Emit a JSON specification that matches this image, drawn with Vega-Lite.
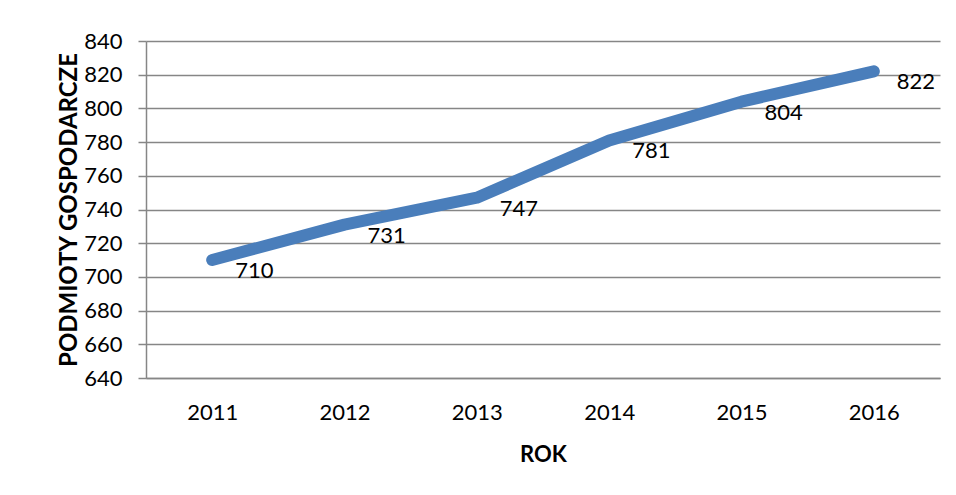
{
  "$schema": "https://vega.github.io/schema/vega-lite/v6.json",
  "width": 794,
  "height": 337,
  "autosize": {"type": "none"},
  "padding": {"left": 146, "top": 41, "right": 16, "bottom": 117},
  "background": "white",
  "config": {
    "view": {"stroke": null},
    "font": "Lato",
    "axis": {
      "labelFont": "Lato",
      "titleFont": "Lato",
      "labelColor": "#000000",
      "titleColor": "#000000",
      "domainColor": "#868686",
      "gridColor": "#868686",
      "tickColor": "#868686",
      "domainWidth": 1.5,
      "gridWidth": 1.5,
      "tickWidth": 1.5
    }
  },
  "data": {
    "values": [
      {"rok": "2011", "podmioty": 710},
      {"rok": "2012", "podmioty": 731},
      {"rok": "2013", "podmioty": 747},
      {"rok": "2014", "podmioty": 781},
      {"rok": "2015", "podmioty": 804},
      {"rok": "2016", "podmioty": 822}
    ]
  },
  "encoding": {
    "x": {
      "field": "rok",
      "type": "ordinal",
      "scale": {"type": "point", "padding": 0.5},
      "axis": {
        "title": "ROK",
        "titleFontSize": 22,
        "titleFontWeight": "bold",
        "titlePadding": 21,
        "labelAngle": 0,
        "labelFontSize": 22,
        "labelPadding": 24,
        "ticks": false,
        "grid": false,
        "domain": true
      }
    },
    "y": {
      "field": "podmioty",
      "type": "quantitative",
      "scale": {"domain": [640, 840], "nice": false, "zero": false},
      "axis": {
        "title": "PODMIOTY GOSPODARCZE",
        "titleFontSize": 24,
        "titleFontWeight": "bold",
        "titlePadding": 2,
        "values": [640, 660, 680, 700, 720, 740, 760, 780, 800, 820, 840],
        "labelFontSize": 22,
        "labelPadding": 16,
        "tickSize": 8,
        "grid": true,
        "domain": true
      }
    }
  },
  "layer": [
    {
      "mark": {
        "type": "line",
        "color": "#4a7ebb",
        "strokeWidth": 12,
        "strokeCap": "round",
        "strokeJoin": "round"
      }
    },
    {
      "mark": {
        "type": "text",
        "align": "left",
        "baseline": "middle",
        "dx": 23,
        "dy": 11,
        "fontSize": 22,
        "font": "Lato",
        "color": "#000000"
      },
      "encoding": {"text": {"field": "podmioty", "type": "quantitative"}}
    }
  ]
}
